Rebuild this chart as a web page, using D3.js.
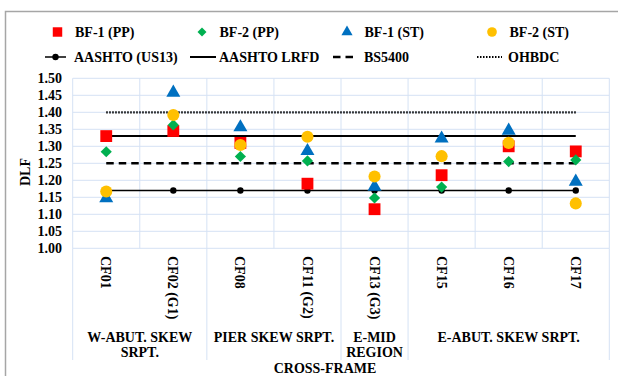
<!DOCTYPE html>
<html>
<head>
<meta charset="utf-8">
<script src="https://cdn.jsdelivr.net/npm/d3@7"></script>
<style>
  html, body { margin: 0; padding: 0; background: #fff; }
  svg { display: block; }
  text { font-family: "Liberation Serif", "Times New Roman", serif; font-weight: bold; fill: #000; }
</style>
</head>
<body>
<svg id="chart" width="618" height="376"></svg>
<script>
// Cross-frame locations along the bridge
const categories = ["CF01", "CF02 (G1)", "CF08", "CF11 (G2)", "CF13 (G3)", "CF15", "CF16", "CF17"];

// Dynamic load factors per bridge-field test series
const bf1PP = [1.33, 1.345, 1.31, 1.19, 1.115, 1.215, 1.30, 1.285];
const bf2PP = [1.284, 1.363, 1.27, 1.257, 1.148, 1.18, 1.255, 1.26];
const bf1ST = [1.147, 1.458, 1.356, 1.286, 1.181, 1.323, 1.346, 1.196];
const bf2ST = [1.167, 1.392, 1.304, 1.328, 1.211, 1.271, 1.31, 1.132];

// Code-specified reference values
const aashtoUS13 = 1.17;
const aashtoLRFD = 1.33;
const bs5400 = 1.25;
const ohbdc = 1.40;

// Axis ticks
const yTicks = [1.00, 1.05, 1.10, 1.15, 1.20, 1.25, 1.30, 1.35, 1.40, 1.45, 1.50];

// Support regions spanning the cross-frames
const groups = [
  { lines: ["W-ABUT. SKEW", "SRPT."], from: 0, to: 1 },
  { lines: ["PIER SKEW SRPT."], from: 2, to: 3 },
  { lines: ["E-MID", "REGION"], from: 4, to: 4 },
  { lines: ["E-ABUT. SKEW SRPT."], from: 5, to: 7 }
];

const svg = d3.select("#chart");
const plotLeft = 72.7, plotRight = 609.3, plotTop = 78.3, plotBottom = 248.3;

const x = d3.scaleBand().domain(categories).range([plotLeft, plotRight]).padding(0);
const y = d3.scaleLinear().domain([1.0, 1.5]).range([plotBottom, plotTop]);
const cx = c => x(c) + x.bandwidth() / 2;

// Outer frame
svg.append("rect")
  .attr("x", 5.5).attr("y", 11.5).attr("width", 700).attr("height", 500)
  .attr("fill", "#fff").attr("stroke", "#a6a6a6").attr("stroke-width", 1.5);

const gridColor = "#d5e2f4";

// Horizontal gridlines
svg.append("g").selectAll("line").data(yTicks).join("line")
  .attr("x1", plotLeft).attr("x2", plotRight)
  .attr("y1", d => y(d)).attr("y2", d => y(d))
  .attr("stroke", gridColor).attr("stroke-width", 1);

// Vertical gridlines at every category boundary
const bounds = categories.map(c => x(c)).concat([plotRight]);
svg.append("g").selectAll("line").data(bounds).join("line")
  .attr("x1", d => d).attr("x2", d => d)
  .attr("y1", plotTop).attr("y2", plotBottom)
  .attr("stroke", gridColor).attr("stroke-width", 1);

// Region separators below the plot
const sepX = [plotLeft].concat(groups.map(g => x(categories[g.to]) + x.bandwidth()));
svg.append("g").selectAll("line").data(sepX).join("line")
  .attr("x1", d => d).attr("x2", d => d)
  .attr("y1", plotBottom).attr("y2", 360)
  .attr("stroke", gridColor).attr("stroke-width", 1);

// Y tick labels
svg.append("g").selectAll("text").data(yTicks).join("text")
  .attr("x", 62).attr("y", d => y(d)).attr("dy", "0.35em")
  .attr("text-anchor", "end").attr("font-size", 14)
  .text(d => d.toFixed(2));

// Y axis title
svg.append("text")
  .attr("transform", `translate(25,172) rotate(-90)`)
  .attr("text-anchor", "middle").attr("dy", "0.35em")
  .attr("font-size", 14).text("DLF");

// Category labels, rotated
svg.append("g").selectAll("text").data(categories).join("text")
  .attr("transform", d => `translate(${cx(d)},256) rotate(90)`)
  .attr("dy", "0.35em").attr("text-anchor", "start")
  .attr("font-size", 14).text(d => d);

// Region labels
groups.forEach(g => {
  const gx = (x(categories[g.from]) + x(categories[g.to]) + x.bandwidth()) / 2;
  const t = svg.append("text").attr("text-anchor", "middle").attr("font-size", 14);
  g.lines.forEach((ln, i) => {
    t.append("tspan").attr("x", gx).attr("y", 341.5 + i * 15).text(ln);
  });
});

// X axis title
svg.append("text").attr("x", 325).attr("y", 373)
  .attr("text-anchor", "middle").attr("font-size", 14).text("CROSS-FRAME");

// Reference lines spanning first to last cross-frame
const x0 = cx(categories[0]), x1 = cx(categories[categories.length - 1]);
const refLine = (v, w, dash) => svg.append("line")
  .attr("x1", x0).attr("x2", x1).attr("y1", y(v)).attr("y2", y(v))
  .attr("stroke", "#000").attr("stroke-width", w)
  .attr("stroke-dasharray", dash);

refLine(ohbdc, 2.2, "1.5,1.5");
refLine(aashtoLRFD, 2, null);
refLine(bs5400, 2.6, "7.5,5");
refLine(aashtoUS13, 1.5, null);
svg.append("g").selectAll("circle").data(categories).join("circle")
  .attr("cx", d => cx(d)).attr("cy", y(aashtoUS13)).attr("r", 3.2).attr("fill", "#000");

// Marker shapes
const colors = { red: "#ff0000", green: "#00b050", blue: "#0070c0", yellow: "#ffc000" };
const sym = {
  square: d3.symbol().type(d3.symbolSquare).size(140),
  diamond: d3.symbol().type(d3.symbolDiamond2).size(80),
  triangle: d3.symbol().type(d3.symbolTriangle).size(85),
  circle: d3.symbol().type(d3.symbolCircle).size(115)
};

const series = [
  { name: "BF-1 (PP)", values: bf1PP, shape: "square", color: colors.red },
  { name: "BF-2 (PP)", values: bf2PP, shape: "diamond", color: colors.green },
  { name: "BF-1 (ST)", values: bf1ST, shape: "triangle", color: colors.blue },
  { name: "BF-2 (ST)", values: bf2ST, shape: "circle", color: colors.yellow }
];

series.forEach(s => {
  svg.append("g").selectAll("path").data(s.values).join("path")
    .attr("d", sym[s.shape]())
    .attr("transform", (d, i) => `translate(${cx(categories[i])},${y(d)})`)
    .attr("fill", s.color);
});

// Legend, first row: measured series
const legX1 = [57.5, 202, 347, 492];
series.forEach((s, i) => {
  svg.append("path").attr("d", sym[s.shape]())
    .attr("fill", s.color)
    .attr("transform", `translate(${legX1[i]},32) scale(0.8)`);
  svg.append("text").attr("x", legX1[i] + 17.5).attr("y", 32).attr("dy", "0.35em")
    .attr("font-size", 14).text(s.name);
});

// Legend, second row: code values
const legY2 = 57;
const legend2 = [
  { name: "AASHTO (US13)", x1: 45, x2: 66, w: 1.5, dash: null, dot: true, tx: 74 },
  { name: "AASHTO LRFD", x1: 190, x2: 216, w: 2, dash: null, dot: false, tx: 219 },
  { name: "BS5400", x1: 333, x2: 356, w: 2.6, dash: "7.5,5", dot: false, tx: 364 },
  { name: "OHBDC", x1: 477, x2: 502, w: 2.2, dash: "1.5,1.5", dot: false, tx: 508 }
];
legend2.forEach(l => {
  svg.append("line").attr("x1", l.x1).attr("x2", l.x2)
    .attr("y1", legY2).attr("y2", legY2)
    .attr("stroke", "#000").attr("stroke-width", l.w)
    .attr("stroke-dasharray", l.dash);
  if (l.dot) {
    svg.append("circle").attr("cx", (l.x1 + l.x2) / 2).attr("cy", legY2)
      .attr("r", 3.2).attr("fill", "#000");
  }
  svg.append("text").attr("x", l.tx).attr("y", legY2).attr("dy", "0.35em")
    .attr("font-size", 14).text(l.name);
});
</script>
</body>
</html>
